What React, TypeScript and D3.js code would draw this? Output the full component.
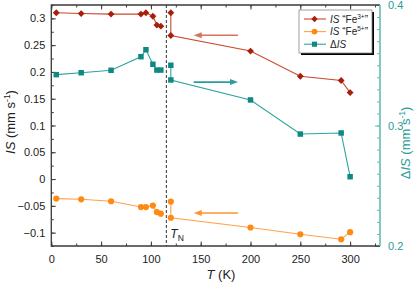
import React, { useEffect, useRef } from 'react';
import * as d3 from 'd3';

// temperatures (K)
const tLow = [5, 30, 60, 90, 95, 102, 106, 110];
const tHigh = [120, 120, 200, 250, 291, 300];

// IS "Fe3+" (mm/s, left axis)
const fe3Low = [0.3105, 0.309, 0.308, 0.308, 0.3105, 0.304, 0.2875, 0.2855];
const fe3High = [0.3105, 0.268, 0.239, 0.192, 0.184, 0.1615];
// IS "Fe5+" (mm/s, left axis)
const fe5Low = [-0.0365, -0.0378, -0.0415, -0.0523, -0.0523, -0.0496, -0.0617, -0.0647];
const fe5High = [-0.0421, -0.0722, -0.0904, -0.103, -0.1124, -0.0992];
// delta IS (mm/s, right axis)
const dLow = [0.3422, 0.3438, 0.3458, 0.3571, 0.3629, 0.3508, 0.346, 0.346];
const dHigh = [0.35, 0.3378, 0.3212, 0.2929, 0.2938, 0.2575];

const xTicks = [0, 50, 100, 150, 200, 250, 300];
const leftTicks = [-0.1, -0.05, 0, 0.05, 0.1, 0.15, 0.2, 0.25, 0.3];
const rightTicks = [0.2, 0.3, 0.4];
const tN = 115.5;

const W = 415, H = 285;
const red = '#a81e0a', redLine = '#c9482f';
const orange = '#ff8a12', orangeLine = '#ffa24a';
const teal = '#0f8884', tealLine = '#2ea39e', tealAxis = '#63bcb8';
const axisCol = '#3a3a3a';

export default function App() {
  const ref = useRef<SVGSVGElement>(null);

  useEffect(() => {
    const svg = d3.select(ref.current);
    svg.selectAll('*').remove();

    const x = d3.scaleLinear().domain([0, 330]).range([51.3, 380]);
    const yL = d3.scaleLinear().domain([-0.125, 0.325]).range([246, 5]);
    const yR = d3.scaleLinear().domain([0.2, 0.4]).range([246, 5]);
    const font = 'Liberation Sans, Arial, sans-serif';

    const minorX = d3.range(0, 330, 25);
    const minorL = d3.range(-0.125, 0.326, 0.025);
    const minorR = d3.range(0.2, 0.4001, 0.01);

    const styleAxis = (g: any, col: string) => {
      g.select('.domain').remove();
      g.selectAll('line').attr('stroke', col).attr('stroke-width', 1);
      g.selectAll('text').attr('font-family', font).attr('font-size', 11).attr('fill', col === tealAxis ? '#2a9c98' : '#222');
    };

    // bottom
    svg.append('g').attr('transform', 'translate(0,246)')
      .call(d3.axisBottom(x).tickValues(minorX).tickSize(-2.5).tickFormat(() => ''))
      .call((g: any) => styleAxis(g, axisCol));
    svg.append('g').attr('transform', 'translate(0,246)')
      .call(d3.axisBottom(x).tickValues(xTicks).tickSize(-4.5).tickPadding(9).tickFormat(d3.format('d')))
      .call((g: any) => styleAxis(g, axisCol));
    // top
    svg.append('g').attr('transform', 'translate(0,5)')
      .call(d3.axisTop(x).tickValues(minorX).tickSize(-2.5).tickFormat(() => ''))
      .call((g: any) => styleAxis(g, axisCol));
    svg.append('g').attr('transform', 'translate(0,5)')
      .call(d3.axisTop(x).tickValues(xTicks).tickSize(-4.5).tickFormat(() => ''))
      .call((g: any) => styleAxis(g, axisCol));
    // left
    svg.append('g').attr('transform', 'translate(51.3,0)')
      .call(d3.axisLeft(yL).tickValues(minorL).tickSize(-2.5).tickFormat(() => ''))
      .call((g: any) => styleAxis(g, axisCol));
    svg.append('g').attr('transform', 'translate(51.3,0)')
      .call(d3.axisLeft(yL).tickValues(leftTicks).tickSize(-4.5).tickPadding(6)
        .tickFormat((d: any) => (d < 0 ? '\u2212' + d3.format('')(-d) : d3.format('')(d))))
      .call((g: any) => styleAxis(g, axisCol));
    // right
    svg.append('g').attr('transform', 'translate(380,0)')
      .call(d3.axisRight(yR).tickValues(minorR).tickSize(-3).tickFormat(() => ''))
      .call((g: any) => styleAxis(g, tealAxis));
    svg.append('g').attr('transform', 'translate(380,0)')
      .call(d3.axisRight(yR).tickValues(rightTicks).tickSize(-5).tickPadding(8).tickFormat(d3.format('.1f')))
      .call((g: any) => styleAxis(g, tealAxis));

    // frame
    svg.append('path').attr('d', `M380,5H51.3V246H380`).attr('fill', 'none')
      .attr('stroke', axisCol).attr('stroke-width', 1.3);
    svg.append('line').attr('x1', 380).attr('x2', 380).attr('y1', 5).attr('y2', 246)
      .attr('stroke', tealAxis).attr('stroke-width', 1.6);

    // T_N line
    svg.append('line').attr('x1', x(tN)).attr('x2', x(tN)).attr('y1', 5).attr('y2', 246)
      .attr('stroke', '#333').attr('stroke-width', 1).attr('stroke-dasharray', '3,2');

    const series = [
      { lo: fe3Low, hi: fe3High, y: yL, col: red, line: redLine, sym: d3.symbolDiamond2, size: 30 },
      { lo: fe5Low, hi: fe5High, y: yL, col: orange, line: orangeLine, sym: d3.symbolCircle, size: 30 },
      { lo: dLow, hi: dHigh, y: yR, col: teal, line: tealLine, sym: d3.symbolSquare, size: 30 },
    ];

    series.forEach(s => {
      const ln = d3.line<[number, number]>().x(d => x(d[0])).y(d => s.y(d[1]));
      [[tLow, s.lo], [tHigh, s.hi]].forEach(([ts, vs]) => {
        const pts = ts.map((t, i) => [t, vs[i]] as [number, number]);
        svg.append('path').attr('d', ln(pts)).attr('fill', 'none')
          .attr('stroke', s.line).attr('stroke-width', 1.1);
        svg.append('g').selectAll('path').data(pts).join('path')
          .attr('transform', d => `translate(${x(d[0])},${s.y(d[1])})`)
          .attr('d', d3.symbol(s.sym, s.size)() as string)
          .attr('fill', s.col);
      });
    });

    // arrows
    const arrows = [
      { from: 187.5, to: 143, v: 0.2684, y: yL, col: '#d5735f' },
      { from: 143, to: 187.5, v: 0.336, y: yR, col: '#2a9e99' },
      { from: 187.5, to: 143, v: -0.0634, y: yL, col: '#ff9530' },
    ];
    arrows.forEach(a => {
      const x0 = x(a.from), x1 = x(a.to), yy = a.y(a.v);
      const dir = x1 > x0 ? 1 : -1;
      svg.append('line').attr('x1', x0).attr('x2', x1 - dir * 6).attr('y1', yy).attr('y2', yy)
        .attr('stroke', a.col).attr('stroke-width', 1.6);
      svg.append('path')
        .attr('d', `M${x1},${yy}L${x1 - dir * 8},${yy - 3}L${x1 - dir * 8},${yy + 3}Z`)
        .attr('fill', a.col);
    });

    // T_N label
    const tl = svg.append('text').attr('x', x(tN) + 4).attr('y', 238)
      .attr('font-family', font).attr('font-size', 12).attr('fill', '#222');
    tl.append('tspan').attr('font-style', 'italic').text('T');
    tl.append('tspan').attr('font-size', 8.5).attr('dy', 3).text('N');

    // axis titles
    const xt = svg.append('text').attr('x', 221).attr('y', 279).attr('text-anchor', 'middle')
      .attr('font-family', font).attr('font-size', 13).attr('fill', '#222');
    xt.append('tspan').attr('font-style', 'italic').text('T');
    xt.append('tspan').text('\u00a0(K)');

    const lt = svg.append('text').attr('transform', 'translate(15,122) rotate(-90)')
      .attr('text-anchor', 'middle').attr('font-family', font).attr('font-size', 13).attr('fill', '#222');
    lt.append('tspan').attr('font-style', 'italic').text('IS');
    lt.append('tspan').text(' (mm s');
    lt.append('tspan').attr('font-size', 8.5).attr('dy', -5).text('-1');
    lt.append('tspan').attr('dy', 5).text(')');

    const rt = svg.append('text').attr('transform', 'translate(410,143) rotate(-90)')
      .attr('text-anchor', 'middle').attr('font-family', font).attr('font-size', 13).attr('fill', '#2a9c98');
    rt.append('tspan').text('\u0394');
    rt.append('tspan').attr('font-style', 'italic').text('IS');
    rt.append('tspan').text(' (mm s');
    rt.append('tspan').attr('font-size', 8.5).attr('dy', -5).text('-1');
    rt.append('tspan').attr('dy', 5).text(')');

    // legend
    const lg = svg.append('g');
    lg.append('rect').attr('x', 301).attr('y', 12).attr('width', 73).attr('height', 43).attr('fill', '#000');
    lg.append('rect').attr('x', 299).attr('y', 10).attr('width', 73).attr('height', 43)
      .attr('fill', '#fff').attr('stroke', '#888').attr('stroke-width', 0.8);
    const rows = [
      { col: red, line: redLine, sym: d3.symbolDiamond2, label: ['IS', ' \u201cFe', '3+', '\u201d'], delta: false },
      { col: orange, line: orangeLine, sym: d3.symbolCircle, label: ['IS', ' \u201cFe', '5+', '\u201d'], delta: false },
      { col: teal, line: tealLine, sym: d3.symbolSquare, label: ['IS'], delta: true },
    ];
    rows.forEach((r, i) => {
      const yy = 19 + i * 12.6;
      lg.append('line').attr('x1', 304).attr('x2', 326).attr('y1', yy).attr('y2', yy)
        .attr('stroke', r.line).attr('stroke-width', 1.1);
      lg.append('path').attr('transform', `translate(314.5,${yy})`)
        .attr('d', d3.symbol(r.sym, 26)() as string).attr('fill', r.col);
      const t = lg.append('text').attr('x', 330).attr('y', yy + 3.5)
        .attr('font-family', font).attr('font-size', 10).attr('fill', '#222');
      if (r.delta) t.append('tspan').text('\u0394');
      t.append('tspan').attr('font-style', 'italic').text(r.label[0]);
      if (!r.delta) {
        t.append('tspan').text(r.label[1]);
        t.append('tspan').attr('font-size', 6.5).attr('dy', -4).text(r.label[2]);
        t.append('tspan').attr('dy', 4).text(r.label[3]);
      }
    });
  }, []);

  return (
    <svg ref={ref} width={W} height={H} style={{ position: 'absolute', left: 0, top: 0, background: '#fff' }} />
  );
}
